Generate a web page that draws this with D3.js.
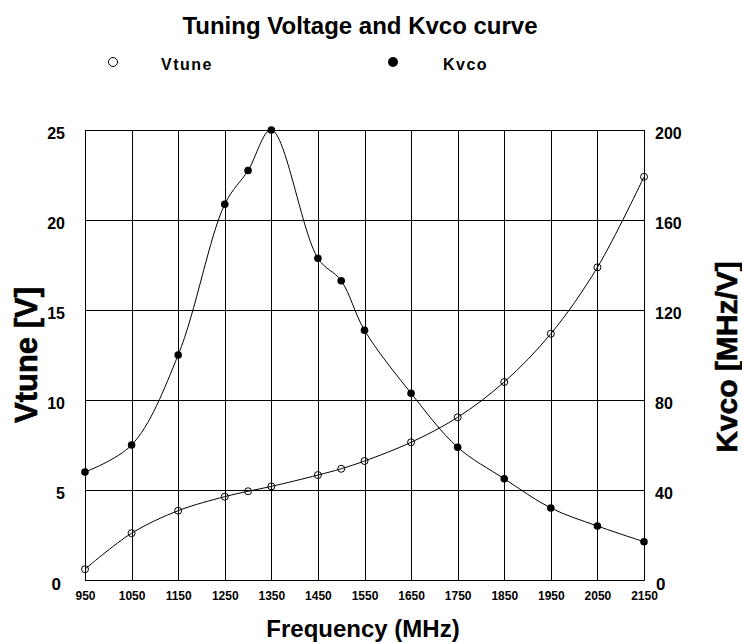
<!DOCTYPE html>
<html>
<head>
<meta charset="utf-8">
<script src="https://cdn.jsdelivr.net/npm/d3@7"></script>
<style>
  body { margin: 0; background: #fff; }
  text { font-family: "Liberation Sans", Arial, sans-serif; font-weight: bold; fill: #000; }
</style>
</head>
<body>
<div id="chart"></div>
<script>
// Data
const freqs = [950, 1050, 1150, 1250, 1300, 1350, 1450, 1500, 1550, 1650, 1750, 1850, 1950, 2050, 2150];
const vtune = [0.6, 2.6, 3.85, 4.63, 4.93, 5.2, 5.83, 6.18, 6.61, 7.65, 9.04, 11.0, 13.68, 17.37, 22.4];
const kvco  = [48, 60, 100, 167, 182, 200, 143, 133, 111, 83, 59, 45, 32, 24, 17];
const xTicks = [950, 1050, 1150, 1250, 1350, 1450, 1550, 1650, 1750, 1850, 1950, 2050, 2150];
const leftTicks = [0, 5, 10, 15, 20, 25];
const rightTicks = [0, 40, 80, 120, 160, 200];

const W = 742, H = 642;
const margin = { top: 130, right: 98, bottom: 62, left: 85 };
const width = W - margin.left - margin.right;
const height = H - margin.top - margin.bottom;

const svg = d3.select('#chart').append('svg')
  .attr('width', W)
  .attr('height', H);

const g = svg.append('g')
  .attr('transform', 'translate(' + margin.left + ',' + margin.top + ')');

// Scales
const x = d3.scaleLinear().domain([950, 2150]).range([0, width]);
const yL = d3.scaleLinear().domain([0, 25]).range([height, 0]);
const yR = d3.scaleLinear().domain([0, 200]).range([height, 0]);

// Grid lines
g.append('g')
  .selectAll('line')
  .data(xTicks)
  .join('line')
  .attr('x1', d => Math.round(x(d)) + 0.5)
  .attr('x2', d => Math.round(x(d)) + 0.5)
  .attr('y1', 0)
  .attr('y2', height)
  .attr('stroke', '#000')
  .attr('stroke-width', 1);

g.append('g')
  .selectAll('line')
  .data(leftTicks)
  .join('line')
  .attr('x1', 0)
  .attr('x2', width)
  .attr('y1', d => Math.round(yL(d)) + 0.5)
  .attr('y2', d => Math.round(yL(d)) + 0.5)
  .attr('stroke', '#000')
  .attr('stroke-width', 1);

// Axes
const xAxis = d3.axisBottom(x).tickValues(xTicks).tickFormat(d3.format('d')).tickSize(0).tickPadding(11);
g.append('g')
  .attr('transform', 'translate(0,' + height + ')')
  .call(xAxis)
  .call(s => s.select('.domain').attr('stroke', '#000'))
  .selectAll('text')
  .style('font-size', '12px');

const leftAxis = d3.axisLeft(yL).tickValues(leftTicks).tickSize(0).tickPadding(20);
g.append('g')
  .call(leftAxis)
  .call(s => s.select('.domain').attr('stroke', '#000'))
  .selectAll('text')
  .attr('dy', d => d === 0 ? '0.58em' : '0.56em')
  .attr('dx', d => d === 0 ? -4 : 0)
  .style('font-size', d => d === 0 ? '17px' : '16px');

const rightAxis = d3.axisRight(yR).tickValues(rightTicks).tickSize(0).tickPadding(11);
g.append('g')
  .attr('transform', 'translate(' + width + ',0)')
  .call(rightAxis)
  .call(s => s.select('.domain').attr('stroke', '#000'))
  .selectAll('text')
  .attr('dy', d => d === 0 ? '0.58em' : '0.5em')
  .attr('dx', d => d === 0 ? 1 : 0)
  .style('font-size', d => d === 0 ? '17px' : '16px');

// Curves
const vLine = d3.line()
  .x((d, i) => x(freqs[i]))
  .y(d => yL(d))
  .curve(d3.curveCatmullRom.alpha(0.5));

const kLine = d3.line()
  .x((d, i) => x(freqs[i]))
  .y(d => yR(d))
  .curve(d3.curveCatmullRom.alpha(0.5));

g.append('path')
  .datum(vtune)
  .attr('fill', 'none')
  .attr('stroke', '#000')
  .attr('stroke-width', 1)
  .attr('d', vLine);

g.append('path')
  .datum(kvco)
  .attr('fill', 'none')
  .attr('stroke', '#000')
  .attr('stroke-width', 1)
  .attr('d', kLine);

// Markers
g.append('g')
  .selectAll('circle')
  .data(vtune)
  .join('circle')
  .attr('cx', (d, i) => x(freqs[i]))
  .attr('cy', d => yL(d))
  .attr('r', 3.5)
  .attr('fill', 'none')
  .attr('stroke', '#000')
  .attr('stroke-width', 1);

g.append('g')
  .selectAll('circle')
  .data(kvco)
  .join('circle')
  .attr('cx', (d, i) => x(freqs[i]))
  .attr('cy', d => yR(d))
  .attr('r', 3.8)
  .attr('fill', '#000');

// Title
svg.append('text')
  .attr('x', 360)
  .attr('y', 34)
  .attr('text-anchor', 'middle')
  .style('font-size', '24px')
  .text('Tuning Voltage and Kvco curve');

// Legend
svg.append('circle')
  .attr('cx', 113).attr('cy', 62).attr('r', 4.5)
  .attr('fill', '#fff').attr('stroke', '#000').attr('stroke-width', 1);
svg.append('text')
  .attr('x', 161).attr('y', 70)
  .style('font-size', '16px')
  .style('letter-spacing', '1.5px')
  .text('Vtune');
svg.append('circle')
  .attr('cx', 393).attr('cy', 62).attr('r', 5)
  .attr('fill', '#000');
svg.append('text')
  .attr('x', 443).attr('y', 70)
  .style('font-size', '16px')
  .style('letter-spacing', '1.5px')
  .text('Kvco');

// Axis titles
svg.append('text')
  .attr('transform', 'translate(37,355) rotate(-90)')
  .attr('text-anchor', 'middle')
  .style('font-size', '31px')
  .style('stroke', '#000')
  .style('stroke-width', '0.6px')
  .text('Vtune [V]');

svg.append('text')
  .attr('transform', 'translate(737,357) rotate(-90)')
  .attr('text-anchor', 'middle')
  .style('font-size', '30px')
  .style('stroke', '#000')
  .style('stroke-width', '0.6px')
  .text('Kvco [MHz/V]');

svg.append('text')
  .attr('x', 363)
  .attr('y', 637)
  .attr('text-anchor', 'middle')
  .style('font-size', '24px')
  .text('Frequency (MHz)');
</script>
</body>
</html>
